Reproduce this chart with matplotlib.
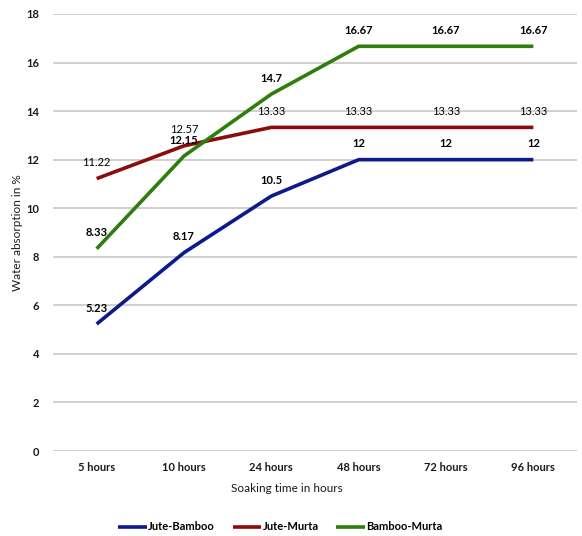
import matplotlib
matplotlib.use("Agg")
import matplotlib.pyplot as plt

plt.rcParams['font.family'] = ['Lato', 'DejaVu Sans']

categories = ["5 hours", "10 hours", "24 hours", "48 hours", "72 hours", "96 hours"]
jute_bamboo = [5.23, 8.17, 10.5, 12, 12, 12]
jute_murta = [11.22, 12.57, 13.33, 13.33, 13.33, 13.33]
bamboo_murta = [8.33, 12.15, 14.7, 16.67, 16.67, 16.67]
y_ticks = [0, 2, 4, 6, 8, 10, 12, 14, 16, 18]

series = [
    ("Jute-Bamboo", jute_bamboo, "#0c1a8a", "bold"),
    ("Jute-Murta", jute_murta, "#8a0c0c", "normal"),
    ("Bamboo-Murta", bamboo_murta, "#2f7d0c", "bold"),
]

fig = plt.figure(figsize=(5.82, 5.36), dpi=100)
ax = fig.add_axes([53 / 582, 1 - 451 / 536, 524 / 582, (451 - 14) / 536])

x = list(range(len(categories)))
for name, vals, color, weight in series:
    ax.plot(x, vals, color=color, lw=2.6, label=name, solid_capstyle='butt', zorder=3)
    for xi, v in zip(x, vals):
        ax.annotate(f"{v:g}", (xi, v), xytext=(0, 11.5), textcoords="offset points",
                    ha="center", va="center", fontsize=8, fontweight=weight,
                    color="#000000", zorder=4)

ax.set_xlim(-0.5, len(categories) - 0.5)
ax.set_ylim(0, 18)
ax.set_yticks(y_ticks)
ax.set_xticks(x)
ax.set_xticklabels(categories)
ax.grid(axis='y', color='#c8c8c8', lw=1.2, zorder=0)
ax.set_axisbelow(True)
for s in ax.spines.values():
    s.set_visible(False)
ax.tick_params(axis='both', length=0, labelsize=8, colors='#1a1a1a', pad=8)
for lab in ax.get_xticklabels() + ax.get_yticklabels():
    lab.set_fontweight('bold')
ax.tick_params(axis='y', pad=10)

# axis title centred on the chart area rather than the plot area
fig.text(287 / 582, 1 - 489 / 536, "Soaking time in hours", ha="center", va="center",
         fontsize=8.5, color='#1a1a1a')
ax.set_ylabel("Water absorption in %", fontsize=8.5, color='#1a1a1a', labelpad=2)

fig.legend(loc='center left', bbox_to_anchor=(108 / 582, 1 - 527 / 536), ncol=3, frameon=False,
           handlelength=2.6, handletextpad=0.1, columnspacing=1.6,
           prop={'weight': 'bold', 'size': 8})

fig.savefig("out.png", dpi=100)
